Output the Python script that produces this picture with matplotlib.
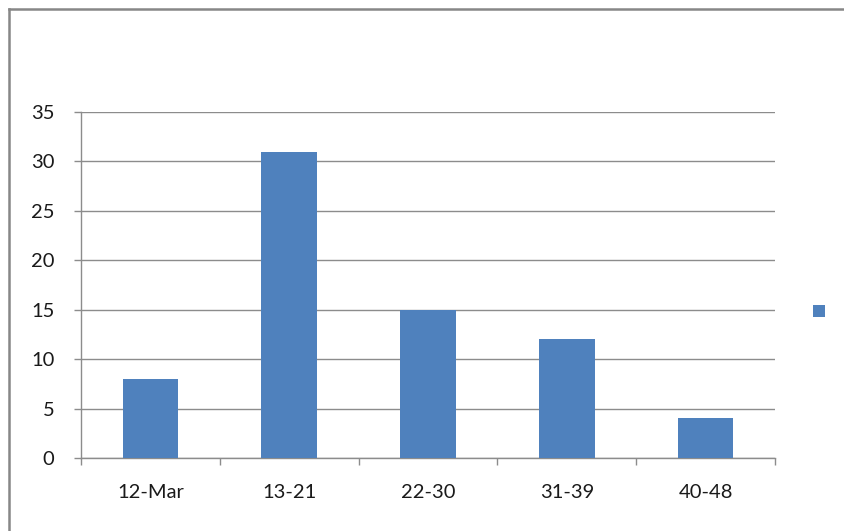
import matplotlib
matplotlib.use("Agg")
import matplotlib.pyplot as plt
from matplotlib.patches import Rectangle
from matplotlib.lines import Line2D
import numpy as np

categories = ["12-Mar", "13-21", "22-30", "31-39", "40-48"]
values = [8, 31, 15, 12, 4]
yticks = [0, 5, 10, 15, 20, 25, 30, 35]

W, H = 844, 531
fig = plt.figure(figsize=(W / 100, H / 100), dpi=100)
plt.rcParams['font.family'] = ['Lato', 'DejaVu Sans']

# chart frame (top and left edges visible)
fx, fy = 9 / W, 1 - 9 / H
fig.add_artist(Line2D([fx, fx], [0, fy], transform=fig.transFigure,
                      color="#878787", linewidth=1.8, solid_capstyle="projecting"))
fig.add_artist(Line2D([fx, 1], [fy, fy], transform=fig.transFigure,
                      color="#878787", linewidth=1.8, solid_capstyle="projecting"))

ax = fig.add_axes([81 / W, (H - 458) / H, (775 - 81) / W, (458 - 112) / H])
x = np.arange(len(categories))
ax.bar(x, values, width=0.4, color="#4F81BD", zorder=3)
ax.set_xlim(-0.5, len(categories) - 0.5)
ax.set_ylim(0, 35)
ax.set_yticks(yticks)
ax.set_yticklabels([str(v) for v in yticks], fontsize=14.5, color="#1a1a1a")
ax.yaxis.grid(True, color="#8c8c8c", linewidth=1.0, zorder=0)
ax.set_xticks(x)
ax.set_xticklabels(categories, fontsize=14.5, color="#1a1a1a")
ax.tick_params(axis="x", length=0, pad=19)
ax.set_xticks(np.arange(len(categories) + 1) - 0.5, minor=True)
ax.tick_params(axis="x", which="minor", length=5, color="#8c8c8c", width=1.0)
ax.tick_params(axis="y", length=5, color="#8c8c8c", width=1.0, pad=14)
for s in ["top", "right"]:
    ax.spines[s].set_visible(False)
for s in ["left", "bottom"]:
    ax.spines[s].set_color("#8c8c8c")
    ax.spines[s].set_linewidth(1.0)

# legend marker (no label)
fig.patches.append(Rectangle((813 / W, (H - 317) / H), 12 / W, 12 / H,
                             transform=fig.transFigure, facecolor="#4F81BD",
                             edgecolor="none"))

fig.savefig("out.png", dpi=100)
